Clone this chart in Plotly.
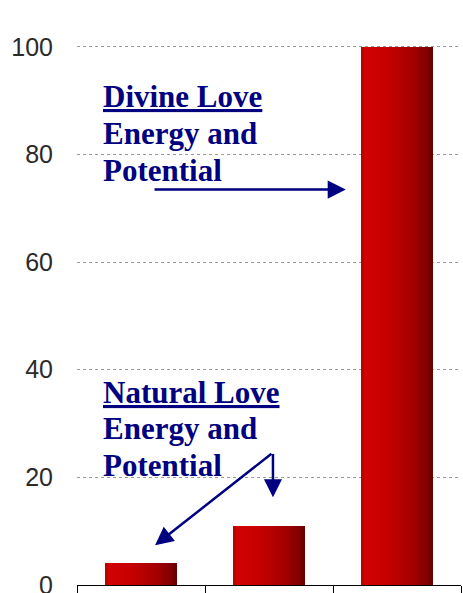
import plotly.graph_objects as go

# ---- data ----
categories = ["A", "B", "C"]
values = [4, 11, 100]
y_ticks = [0, 20, 40, 60, 80, 100]
divine_lines = ["<u>Divine Love</u>", "Energy and", "Potential"]
natural_lines = ["<u>Natural Love</u>", "Energy and", "Potential"]

positions = list(range(len(categories)))
bar_w = 0.555
N = 24
PX_PER_UNIT = 5.41
ZERO_PX = 588

def px_to_y(p):
    return (ZERO_PX - p) / PX_PER_UNIT

def grad(t):
    stops = [(0.0, (180, 0, 0)), (0.06, (208, 2, 2)), (0.35, (200, 0, 0)),
             (0.75, (160, 0, 0)), (0.93, (125, 0, 0)), (1.0, (100, 0, 0))]
    for (t0, c0), (t1, c1) in zip(stops[:-1], stops[1:]):
        if t0 <= t <= t1:
            f = (t - t0) / (t1 - t0) if t1 > t0 else 0
            return "rgb(%d,%d,%d)" % tuple(round(a + (b - a) * f) for a, b in zip(c0, c1))
    return "rgb(100,0,0)"

fig = go.Figure()
for k in range(N):
    fig.add_trace(go.Bar(
        x=positions, y=values,
        width=[bar_w * (N - k) / N] * len(values),
        offset=[-bar_w / 2 + bar_w * k / N] * len(values),
        marker=dict(color=grad((k + 0.5) / N), line=dict(width=0)),
        hoverinfo="skip", showlegend=False,
    ))

navy = "#000080"
txt_font = dict(family="Liberation Serif", size=31, color=navy)

annotations = []
for lines, tops in ((divine_lines, [77.5, 114.5, 151.5]), (natural_lines, [375, 411.5, 448])):
    for line, top in zip(lines, tops):
        annotations.append(dict(x=-0.31, y=px_to_y(top), xref="x", yref="y",
                                xanchor="left", yanchor="top", text="<b>" + line + "</b>",
                                showarrow=False, align="left", font=txt_font))

arrow = dict(xref="x", yref="y", axref="x", ayref="y", text="", showarrow=True,
             arrowhead=2, arrowsize=1.45, arrowwidth=2.5, arrowcolor=navy)
annotations += [
    dict(x=1.60, y=px_to_y(190.5), ax=0.094, ay=px_to_y(190.5), **arrow),
    dict(x=0.11, y=7.4, ax=1.031, ay=24.6, **arrow),
    dict(x=1.031, y=16.3, ax=1.031, ay=24.6, **arrow),
]

fig.update_layout(
    width=463, height=593,
    margin=dict(l=77, r=2, t=0, b=5),
    paper_bgcolor="white", plot_bgcolor="white",
    barmode="overlay", bargap=0,
    annotations=annotations,
    xaxis=dict(range=[-0.5, 2.5], tickvals=[-0.5, 0.5, 1.5, 2.5], ticktext=["", "", "", ""],
               ticks="outside", ticklen=8, tickcolor="black", tickwidth=1,
               showline=True, linecolor="black", linewidth=1, showgrid=False, zeroline=False),
    yaxis=dict(range=[0, 108.7], tickvals=y_ticks, ticktext=[str(v) for v in y_ticks],
               showgrid=True, gridcolor="#9a9a9a", griddash="dot", gridwidth=1,
               zeroline=False, showline=False, ticks="", ticklabelstandoff=23,
               automargin=False, ticklabeloverflow="allow",
               tickfont=dict(family="Liberation Sans", size=25, color="#2a2a2a")),
)

fig.write_html("out.html", config={"displayModeBar": False},
               post_script="document.body.style.margin='0';")
